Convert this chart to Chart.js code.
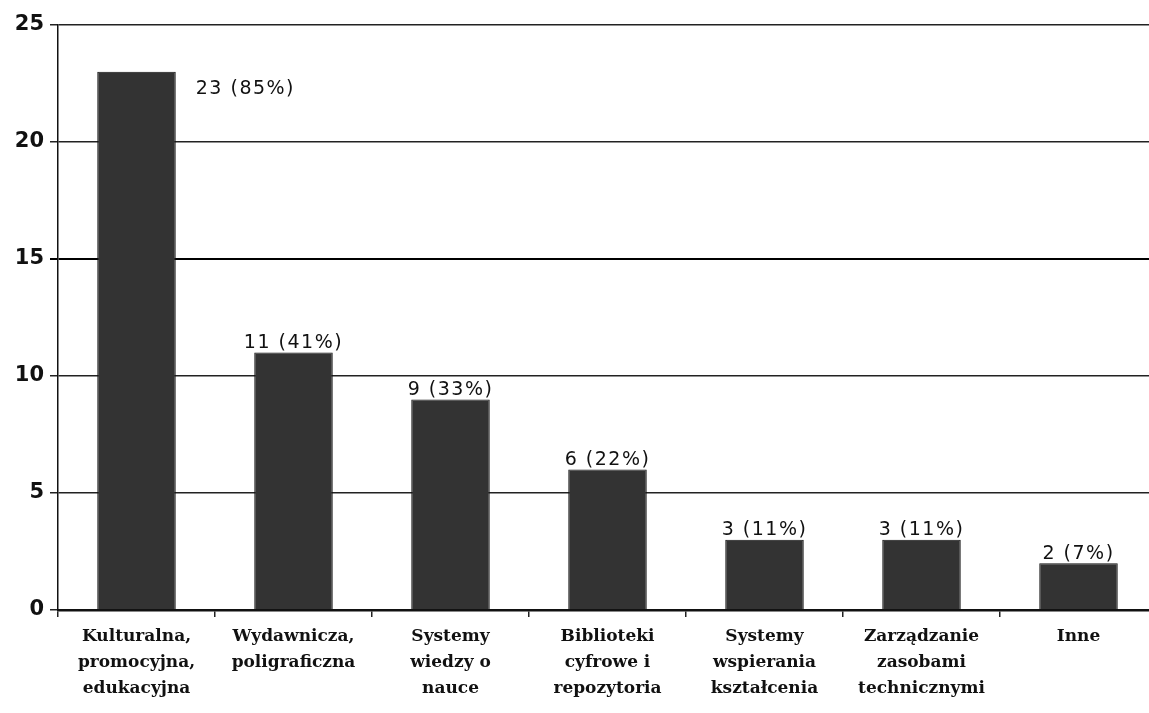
<!DOCTYPE html>
<html>
<head>
<meta charset="utf-8">
<script src="https://cdn.jsdelivr.net/npm/chart.js@4"></script>
<style>
  html, body { margin: 0; padding: 0; background: #fff; overflow: hidden; }
  #wrap { width: 1160px; height: 713px; position: relative; }
</style>
</head>
<body>
<div id="wrap"><canvas id="bars"></canvas></div>
<script>
// categories (multi-line labels)
const categories = [
  ['Kulturalna,', 'promocyjna,', 'edukacyjna'],
  ['Wydawnicza,', 'poligraficzna'],
  ['Systemy', 'wiedzy o', 'nauce'],
  ['Biblioteki', 'cyfrowe i', 'repozytoria'],
  ['Systemy', 'wspierania', 'kształcenia'],
  ['Zarządzanie', 'zasobami', 'technicznymi'],
  ['Inne']
];
const counts = [23, 11, 9, 6, 3, 3, 2];
const percents = [85, 41, 33, 22, 11, 11, 7];
const yTicks = [0, 5, 10, 15, 20, 25];

// value labels "n (p%)" above each bar, the tallest one goes beside it
const valueLabels = {
  id: 'valueLabels',
  afterDatasetsDraw(chart) {
    const ctx = chart.ctx;
    const meta = chart.getDatasetMeta(0);
    const maxVal = Math.max(...counts);
    ctx.save();
    ctx.font = '19px "DejaVu Sans"';
    ctx.letterSpacing = '1.5px';
    ctx.fillStyle = '#111';
    meta.data.forEach((bar, i) => {
      const txt = counts[i] + ' (' + percents[i] + '%)';
      if (counts[i] === maxVal) {
        ctx.textAlign = 'left';
        ctx.textBaseline = 'middle';
        ctx.fillText(txt, bar.x + bar.width / 2 + 20, bar.y + 17);
      } else {
        ctx.textAlign = 'center';
        ctx.textBaseline = 'bottom';
        ctx.fillText(txt, bar.x, bar.y);
      }
    });
    ctx.restore();
  }
};

const ctx = document.getElementById('bars').getContext('2d');
new Chart(ctx, {
  type: 'bar',
  data: {
    labels: categories,
    datasets: [{
      data: counts,
      backgroundColor: '#333333',
      borderColor: '#111111',
      borderWidth: 1,
      barPercentage: 0.5,
      categoryPercentage: 1.0
    }]
  },
  options: {
    responsive: true,
    maintainAspectRatio: false,
    animation: false,
    layout: { padding: { top: 25, right: 3, left: 0, bottom: 0 } },
    plugins: {
      legend: { display: false },
      tooltip: { enabled: false }
    },
    scales: {
      x: {
        grid: {
          drawOnChartArea: false,
          drawTicks: true,
          tickLength: 7,
          color: '#222',
          lineWidth: 1.5
        },
        border: { color: '#111', width: 2.5 },
        ticks: {
          color: '#111',
          font: { family: '"DejaVu Serif"', size: 17, weight: 'bold', lineHeight: 1.55 },
          maxRotation: 0,
          autoSkip: false,
          padding: 6
        },
        afterFit(scale) { scale.height = 103; }
      },
      y: {
        min: 0,
        max: 25,
        afterBuildTicks(scale) { scale.ticks = yTicks.map(v => ({ value: v })); },
        grid: {
          color: (c) => c.tick && c.tick.value === 15 ? '#000' : '#222',
          lineWidth: (c) => c.tick && c.tick.value === 15 ? 2 : 1.5,
          tickLength: 8
        },
        border: { color: '#111', width: 1.5 },
        ticks: {
          color: '#111',
          font: { family: '"DejaVu Sans"', size: 21, weight: 'bold' },
          padding: 6
        },
        afterFit(scale) { scale.width = 58; }
      }
    }
  },
  plugins: [valueLabels]
});
</script>
</body>
</html>
